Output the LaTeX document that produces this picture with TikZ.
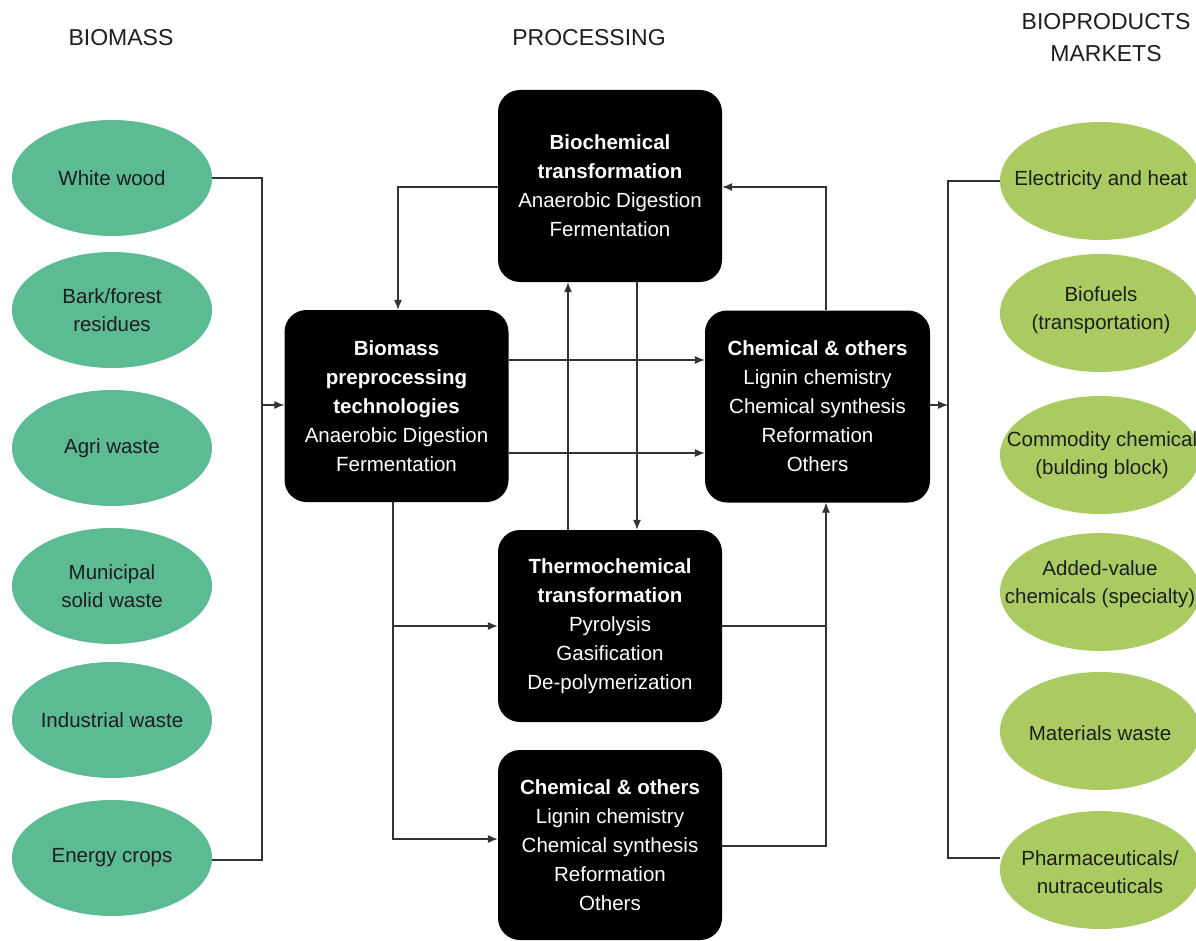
\documentclass[tikz,border=0pt]{standalone}
\usepackage{fontspec}
\setmainfont{Liberation Sans}
\usetikzlibrary{shapes.geometric,arrows.meta}
\definecolor{teal1}{HTML}{5CBB93}
\definecolor{lime1}{HTML}{AACB62}
\definecolor{linec}{HTML}{333333}
\definecolor{txtc}{HTML}{1E1E1E}
\tikzset{
  src/.style={ellipse, fill=teal1, minimum width=200pt, minimum height=116pt, inner sep=0pt},
  mkt/.style={ellipse, fill=lime1, minimum width=200pt, minimum height=118pt, inner sep=0pt},
  etxt/.style={align=center, text=txtc, inner sep=0pt, font=\fontsize{20.5}{28}\selectfont},
  proc/.style={rectangle, rounded corners=22pt, fill=black, text=white, minimum width=224pt, minimum height=192pt, inner sep=0pt, align=center, font=\fontsize{20.5}{29}\selectfont},
  conn/.style={draw=linec, line width=1.1pt},
  arr/.style={conn, -{Latex[length=10pt,width=8pt]}},
  hdr/.style={font=\fontsize{23}{32}\selectfont, text=txtc, align=center}
}
\begin{document}
\begin{tikzpicture}[x=1pt,y=-1pt]
\useasboundingbox (0,0) rectangle (1196,941);
\fill[white] (0,0) rectangle (1196,941);
% headers
\node[hdr] (h1) at (121,38) {BIOMASS};
\node[hdr] (h2) at (589,38) {PROCESSING};
\node[hdr] (h3) at (1106,38) {BIOPRODUCTS\\MARKETS};
% sources
\node[src] (s1) at (112,178) {};
\node[src] (s2) at (112,310) {};
\node[src] (s3) at (112,448) {};
\node[src] (s4) at (112,586) {};
\node[src] (s5) at (112,720) {};
\node[src] (s6) at (112,858) {};
\node[etxt] (s1t) at (s1.center) {White wood};
\node[etxt] (s2t) at (s2.center) {Bark/forest\\residues};
\node[etxt] (s3t) at (s3.center) {Agri waste};
\node[etxt] (s4t) at (s4.center) {Municipal\\solid waste};
\node[etxt] (s5t) at (s5.center) {Industrial waste};
\node[etxt] (s6t) at (s6.center) {Energy crops};
% markets
\node[mkt] (m1) at (1100,181) {};
\node[mkt] (m2) at (1100,313) {};
\node[mkt] (m3) at (1100,455) {};
\node[mkt] (m4) at (1100,592) {};
\node[mkt] (m5) at (1100,731) {};
\node[mkt] (m6) at (1100,870) {};
\node[etxt] (m1t) at (1101,180) {Electricity and heat};
\node[etxt] (m2t) at (1101,310) {Biofuels\\(transportation)};
\node[etxt] (m3t) at (1102,455) {Commodity chemical\\(bulding block)};
\node[etxt] (m4t) at (1100,584) {Added-value\\chemicals (specialty)};
\node[etxt] (m5t) at (1100,733) {Materials waste};
\node[etxt] (m6t) at (1100,872) {Pharmaceuticals/\\nutraceuticals};
% processing boxes
\node[proc] (pre) at (396.5,406) {\textbf{Biomass}\\\textbf{preprocessing}\\\textbf{technologies}\\Anaerobic Digestion\\Fermentation};
\node[proc] (bio) at (610,186) {\textbf{Biochemical}\\\textbf{transformation}\\Anaerobic Digestion\\Fermentation};
\node[proc, minimum width=225pt] (chr) at (817.5,406.5) {\textbf{Chemical \& others}\\Lignin chemistry\\Chemical synthesis\\Reformation\\Others};
\node[proc] (thm) at (610,626) {\textbf{Thermochemical}\\\textbf{transformation}\\Pyrolysis\\Gasification\\De-polymerization};
\node[proc, minimum height=190pt] (chb) at (610,845) {\textbf{Chemical \& others}\\Lignin chemistry\\Chemical synthesis\\Reformation\\Others};
% left bus
\coordinate (lbt) at (262,178);
\coordinate (lbb) at (262,860);
\coordinate (lbm) at (262,405);
\draw[conn] (s1.east) -- (lbt) -- (lbb) -- (s6.east |- lbb);
\draw[arr] (lbm) -- (lbm -| pre.west);
% right bus
\coordinate (rbt) at (948,181);
\coordinate (rbb) at (948,858);
\coordinate (rbm) at (948,405);
\draw[conn] (m1.west) -- (rbt) -- (rbb) -- (m6.west |- rbb);
\draw[arr] (chr.east |- rbm) -- (rbm);
% biochemical -> preprocessing
\coordinate (c1) at (398,187);
\draw[arr] (bio.west |- c1) -- (c1) -- (c1 |- pre.north);
% preprocessing -> chemical right
\coordinate (c2) at (508,360);
\coordinate (c3) at (508,453);
\draw[arr] (pre.east |- c2) -- (chr.west |- c2);
\draw[arr] (pre.east |- c3) -- (chr.west |- c3);
% chemical right -> biochemical
\coordinate (c4) at (826,187);
\draw[arr] (c4 |- chr.north) -- (c4) -- (bio.east |- c4);
% thermo <-> biochemical
\coordinate (c5) at (568,400);
\coordinate (c6) at (637,400);
\draw[arr] (c5 |- thm.north) -- (c5 |- bio.south);
\draw[arr] (c6 |- bio.south) -- (c6 |- thm.north);
% preprocessing -> thermo and chemical bottom
\coordinate (c7) at (393,626);
\coordinate (c8) at (393,839);
\draw[arr] (c7 |- pre.south) -- (c8) -- (c8 -| chb.west);
\draw[arr] (c7) -- (c7 -| thm.west);
% thermo, chemical bottom -> chemical right
\coordinate (c9) at (826,626);
\coordinate (c10) at (826,846);
\draw[arr] (chb.east |- c10) -- (c10) -- (c10 |- chr.south);
\draw[conn] (thm.east |- c9) -- (c9);
\end{tikzpicture}
\end{document}
